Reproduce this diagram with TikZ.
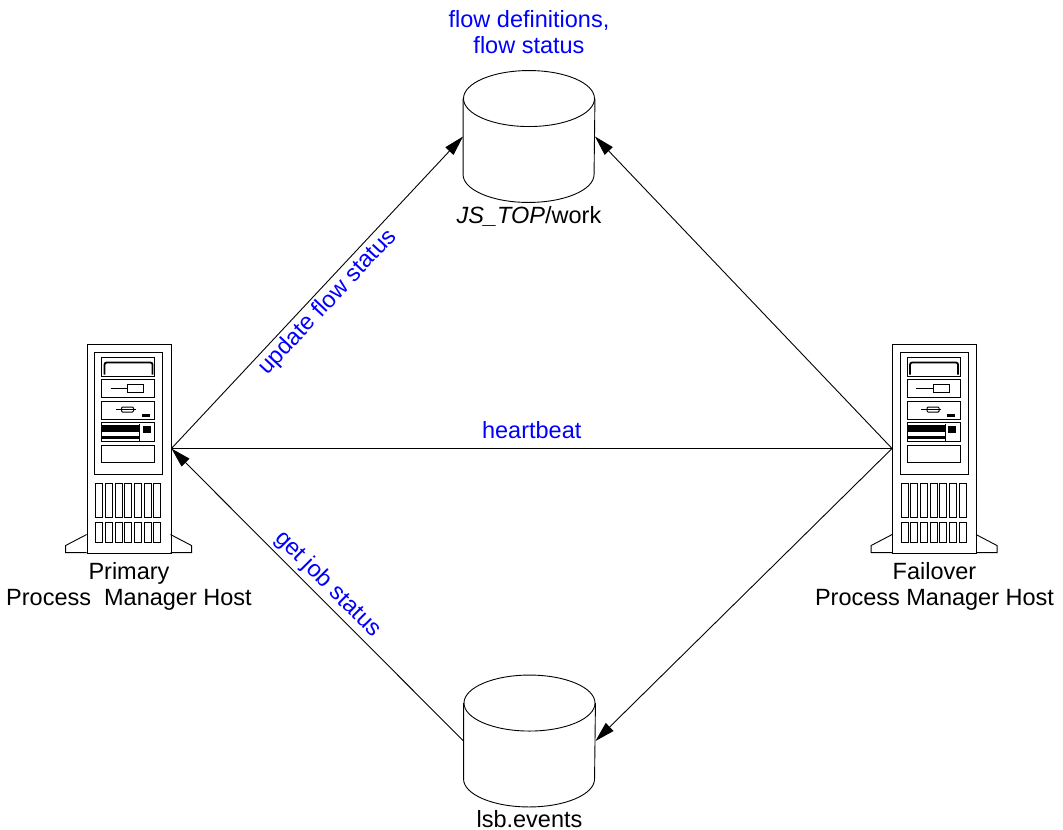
\documentclass[tikz,border=0pt]{standalone}
\usepackage{fontspec}
\setmainfont{Liberation Sans}
\usetikzlibrary{positioning,arrows.meta}

% front of a tower host, drawn from the top left corner of its case
\newcommand{\serverpanel}{%
  \draw (8,9) rectangle (76,131);
  % drive bays
  \draw (15,14) rectangle (68,33);
  \draw[line width=1.8pt, rounded corners=2pt] (18,31) -- (18,19) -- (66,19) -- (66,31);
  \draw (15,36) rectangle (68,54);
  \draw (24,45) -- (41,45);
  \draw (41,41) rectangle (57,49);
  \draw (15,58) rectangle (68,76);
  \draw (29,66) -- (49,66);
  \draw[rounded corners=1pt] (35,63.5) rectangle (47,68.5);
  \fill (55,70) rectangle (63,73);
  \draw (15,79) rectangle (68,98);
  \fill (15,81) rectangle (53,88);
  \fill (15,92) rectangle (53,95);
  \draw (53,80) -- (53,98);
  \fill (56,82) rectangle (64,89);
  \draw (15,102) rectangle (68,119);
  % vents
  \foreach \i in {0,...,6}{
    \draw (9+\i*9.7,140) rectangle ++(7,34);
    \draw (9+\i*9.7,179) rectangle ++(7,20);
  }
  % feet
  \draw (0,191) -- (-21,202) -- (-21,209) -- (0,209);
  \draw (84,191) -- (105,202) -- (105,209) -- (84,209);
}

% outline of a disk store round a store node
\newcommand{\drawstore}[1]{%
  \draw ([yshift=-28pt]#1.north) ellipse [x radius=65.5pt, y radius=28pt];
  \draw ([yshift=-28pt]#1.north west) -- ([yshift=28pt]#1.south west)
    arc[start angle=180, end angle=360, x radius=65.5pt, y radius=28pt]
    -- ([yshift=-28pt]#1.north east);
}

\begin{document}
\begin{tikzpicture}[x=1pt, y=-1pt, line width=0.9pt,
    font=\fontsize{23.5}{26}\selectfont,
    host/.style={rectangle, draw, inner sep=0pt, minimum width=84pt, minimum height=209pt},
    store/.style={rectangle, inner sep=0pt, minimum width=131pt, minimum height=131pt},
    note/.style={text=blue, align=center},
    caption/.style={align=center, inner sep=1pt},
    arrow/.style={-{Triangle[length=20pt, width=11pt]}}
]
    \useasboundingbox (0,0) rectangle (1063,830);

    % Hosts
    \node[host] (prim) at (129,448.5) {};
    \node[host] (fail) at (934.5,448.5) {};
    \begin{scope}[shift={(prim.north west)}]
        \serverpanel
    \end{scope}
    \begin{scope}[shift={(fail.north west)}]
        \serverpanel
    \end{scope}
    \node[caption, below=8pt of prim] (primtext) {Primary\\Process\ \ Manager Host};
    \node[caption, below=8pt of fail] (failtext) {Failover\\Process Manager Host};

    % Stores
    \node[store] (work) at (529,136.5) {};
    \node[store] (events) at (529.5,741) {};
    \drawstore{work}
    \drawstore{events}
    \node[caption, below=3pt of work] (worktext) {\textit{JS\_TOP}/work};
    \node[caption, below=2pt of events] (eventstext) {lsb.events};
    \node[note, inner sep=1pt, above=15pt of work] (worknote) {flow definitions,\\flow status};

    % Arrows
    \draw[arrow] (prim.east) -- node[note, sloped, below] {update flow status} (work.west);
    \draw[arrow] (fail.west) -- (work.east);
    \draw (prim.east) -- node[note, inner sep=1pt, above=8pt] {heartbeat} (fail.west);
    \draw[arrow] (events.west) -- node[note, sloped, above] {get job status} (prim.east);
    \draw[arrow] (fail.west) -- (events.east);
\end{tikzpicture}
\end{document}
